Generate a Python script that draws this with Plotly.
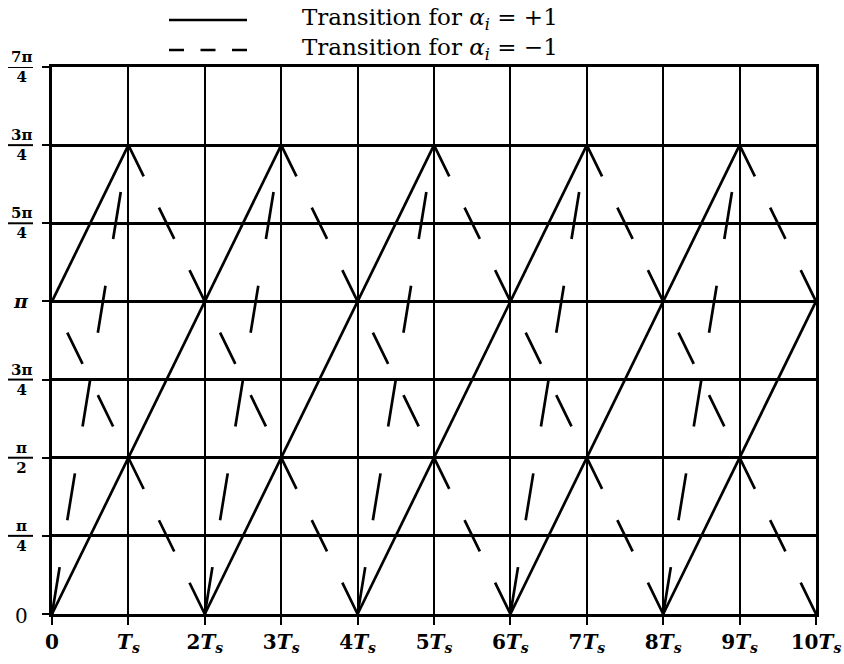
import numpy as np
import plotly.graph_objects as go

# ---- trellis data: times in symbol periods Ts, phases in units of pi ----
# alpha_i = +1 transitions (phase rises pi/2 per Ts)
rise_t0 = [0, 0, 2, 4, 6, 8]
rise_p0 = [1.0, 0.0, 0.0, 0.0, 0.0, 0.0]
rise_t1 = [1, 3, 5, 7, 9, 10]
rise_p1 = [1.5, 1.5, 1.5, 1.5, 1.5, 1.0]

# alpha_i = -1 transitions (phase falls pi/2 per Ts)
fall_t0 = [2, 1, 3, 5, 7, 9]
fall_p0 = [0.0, 1.5, 1.5, 1.5, 1.5, 1.5]
fall_t1 = [0, 4, 6, 8, 10, 10]
fall_p1 = [1.0, 0.0, 0.0, 0.0, 0.0, 1.0]

# alpha_i = -1 from phase 0, wrapped to 3pi/2
wrap_t0 = [0, 2, 4, 6, 8]
wrap_p0 = [0.0, 0.0, 0.0, 0.0, 0.0]
wrap_t1 = [1, 3, 5, 7, 9]
wrap_p1 = [1.5, 1.5, 1.5, 1.5, 1.5]

# axis ticks
time_ticks = list(range(11))
time_mult = ["0", "", "2", "3", "4", "5", "6", "7", "8", "9", "10"]
phase_ticks = [0.0, 0.25, 0.5, 0.75, 1.0, 1.25, 1.5, 1.75]
phase_num = ["0", "π", "π", "3π", "π", "5π", "3π", "7π"]
phase_den = ["", "4", "2", "4", "", "4", "4", "4"]

legend_labels = ["Transition for <i>α</i><sub><i>i</i></sub> = +1",
                 "Transition for <i>α</i><sub><i>i</i></sub> = −1"]

# ---- geometry ----
W, H = 844, 664
ML, MR, MT, MB = 52, 28, 67, 50
PW, PH = W - ML - MR, H - MT - MB
T_MAX, P_MAX = 10, 1.75
px_t = PW / T_MAX
px_p = PH / (P_MAX * np.pi)

SERIF = "DejaVu Serif"
LW = 2.7


def px_len(t0, p0, t1, p1):
    dx = (t1 - t0) * px_t
    dy = (p1 - p0) * np.pi * px_p
    return float(np.hypot(dx, dy))


fig = go.Figure()

for a, b, c, d in zip(rise_t0, rise_p0, rise_t1, rise_p1):
    fig.add_trace(go.Scatter(x=[a, c], y=[b * np.pi, d * np.pi], mode="lines",
                             line=dict(color="black", width=LW), hoverinfo="skip"))

# falling lines: three dashes per symbol period
for a, b, c, d in zip(fall_t0, fall_p0, fall_t1, fall_p1):
    seg = px_len(a, b, c, d) / abs(c - a) / 5
    fig.add_trace(go.Scatter(x=[a, c], y=[b * np.pi, d * np.pi], mode="lines",
                             line=dict(color="black", width=LW, dash=f"{seg:.2f}px,{seg:.2f}px"),
                             hoverinfo="skip"))

# wrapped lines: five dashes per symbol period
for a, b, c, d in zip(wrap_t0, wrap_p0, wrap_t1, wrap_p1):
    seg = px_len(a, b, c, d) / 10
    fig.add_trace(go.Scatter(x=[a, c], y=[b * np.pi, d * np.pi], mode="lines",
                             line=dict(color="black", width=LW, dash=f"{seg:.2f}px,{seg:.2f}px"),
                             hoverinfo="skip"))

time_text = ["<b>0</b>" if k == 0 else f"<b>{m}<i>T</i></b><sub><b><i>s</i></b></sub>"
             for k, m in zip(time_ticks, time_mult)]

annotations = []
shapes = []


def paper_x(px):
    return (px - ML) / PW


def paper_y(py):
    return 1 - (py - MT) / PH


label_cx = 21
for v, num, den in zip(phase_ticks, phase_num, phase_den):
    if den:
        annotations.append(dict(text=f"<b>{num}</b><br><b>{den}</b>", x=paper_x(label_cx), xref="paper",
                                y=v * np.pi, yref="y", xanchor="center", yanchor="middle",
                                showarrow=False, font=dict(family=SERIF, size=15, color="black")))
        shapes.append(dict(type="line", xref="paper", yref="y",
                           x0=paper_x(8), x1=paper_x(33), y0=v * np.pi, y1=v * np.pi,
                           line=dict(color="black", width=2)))
    elif num == "0":
        annotations.append(dict(text="0", x=paper_x(label_cx), xref="paper",
                                y=v * np.pi, yref="y", xanchor="center", yanchor="middle",
                                yshift=-2, showarrow=False,
                                font=dict(family=SERIF, size=20, color="black")))
    else:
        annotations.append(dict(text=f"<b><i>{num}</i></b>", x=paper_x(label_cx), xref="paper",
                                y=v * np.pi, yref="y", xanchor="center", yanchor="middle",
                                showarrow=False, font=dict(family=SERIF, size=19, color="black")))

# legend key
for row, (lbl, dash) in enumerate(zip(legend_labels, ["solid", "15px,16.5px"])):
    yk = 20 + 30 * row
    shapes.append(dict(type="line", xref="paper", yref="paper",
                       x0=paper_x(169), x1=paper_x(247), y0=paper_y(yk), y1=paper_y(yk),
                       line=dict(color="black", width=LW, dash=dash)))
    annotations.append(dict(text=lbl, x=paper_x(300), xref="paper", y=paper_y(yk - 1), yref="paper",
                            xanchor="left", yanchor="middle", showarrow=False,
                            font=dict(family=SERIF, size=23, color="black")))

axis_common = dict(showgrid=True, gridcolor="black", zeroline=False, automargin=False,
                   showline=True, mirror=True, linecolor="black", linewidth=2.7,
                   ticks="outside", tickcolor="black", tickwidth=2)

fig.update_layout(
    width=W, height=H,
    margin=dict(l=ML, r=MR, t=MT, b=MB, pad=0),
    paper_bgcolor="white", plot_bgcolor="white",
    showlegend=False,
    xaxis=dict(range=[0, T_MAX], tickvals=time_ticks, ticktext=time_text, gridwidth=2.2,
               ticklen=8, tickfont=dict(family=SERIF, size=20, color="black"), **axis_common),
    yaxis=dict(range=[0, P_MAX * np.pi], tickvals=[v * np.pi for v in phase_ticks],
               showticklabels=False, gridwidth=2.7, ticklen=7, **axis_common),
    annotations=annotations,
    shapes=shapes,
)

fig.write_html("out.html")
